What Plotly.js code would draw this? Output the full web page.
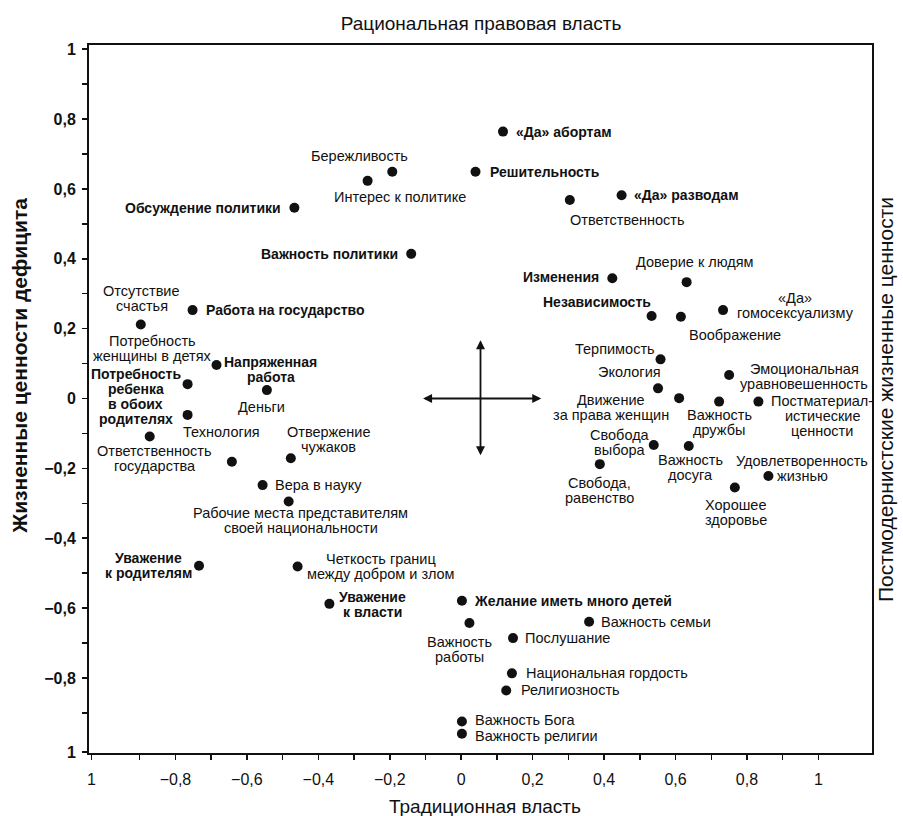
<!DOCTYPE html>
<html>
<head>
<meta charset="utf-8">
<script src="https://cdn.plot.ly/plotly-3.0.1.min.js"></script>
<style>html,body{margin:0;padding:0;background:#fff;}#chart{width:903px;height:816px;}</style>
</head>
<body>
<div id="chart"></div>
<script>
// ---- data ----
const pointNames = [
  'Отсутствие<br>счастья', 'Работа на государство', 'Обсуждение политики', 'Важность политики',
  'Бережливость', 'Интерес к политике', '«Да» абортам', 'Решительность', 'Ответственность',
  '«Да» разводам', 'Изменения', 'Доверие к людям', 'Независимость', 'Воображение',
  '«Да»<br>гомосексуализму', 'Терпимость', 'Экология', 'Движение<br>за права женщин',
  'Эмоциональная<br>уравновешенность', 'Важность<br>дружбы', 'Постматериал-<br>истические<br>ценности',
  'Свобода<br>выбора', 'Важность<br>досуга', 'Свобода,<br>равенство', 'Удовлетворенность<br>жизнью',
  'Хорошее<br>здоровье', 'Потребность<br>женщины в детях', 'Напряженная<br>работа',
  'Потребность<br>ребенка<br>в обоих<br>родителях', 'Ответственность<br>государства', 'Технология',
  'Деньги', 'Отвержение<br>чужаков', 'Вера в науку', 'Рабочие места представителям<br>своей национальности',
  'Уважение<br>к родителям', 'Четкость границ<br>между добром и злом', 'Уважение<br>к власти',
  'Желание иметь много детей', 'Важность семьи', 'Важность<br>работы', 'Послушание',
  'Национальная гордость', 'Религиозность', 'Важность Бога', 'Важность религии'
];
const xValues = [
  -0.897, -0.752, -0.467, -0.140,
  -0.193, -0.262, 0.117, 0.040, 0.304,
  0.449, 0.423, 0.631, 0.533, 0.615,
  0.733, 0.558, 0.551, 0.610,
  0.750, 0.722, 0.832,
  0.539, 0.637, 0.388, 0.860,
  0.766, -0.766, -0.685,
  -0.766, -0.872, -0.642,
  -0.544, -0.477, -0.556, -0.483,
  -0.734, -0.458, -0.369,
  0.002, 0.358, 0.023, 0.145,
  0.142, 0.126, 0.002, 0.002
];
const yValues = [
  0.212, 0.253, 0.546, 0.414,
  0.649, 0.623, 0.764, 0.649, 0.568,
  0.582, 0.344, 0.333, 0.236, 0.234,
  0.253, 0.112, 0.029, 0.001,
  0.067, -0.009, -0.009,
  -0.133, -0.136, -0.188, -0.222,
  -0.255, 0.041, 0.096,
  -0.047, -0.109, -0.181,
  0.024, -0.171, -0.248, -0.295,
  -0.479, -0.481, -0.588,
  -0.579, -0.639, -0.643, -0.686,
  -0.787, -0.836, -0.925, -0.960
];
const xTickVals = [-1.035, -0.9, -0.8, -0.7, -0.6, -0.5, -0.4, -0.3, -0.2, -0.1, 0, 0.1, 0.2, 0.3, 0.4, 0.5, 0.6, 0.7, 0.8, 0.9, 1.0];
const xTickText = ['1', '', '−0,8', '', '−0,6', '', '−0,4', '', '−0,2', '', '0', '', '0,2', '', '0,4', '', '0,6', '', '0,8', '', '1'];
const yTickVals = [-1.012, -0.9, -0.8, -0.7, -0.6, -0.5, -0.4, -0.3, -0.2, -0.1, 0, 0.1, 0.2, 0.3, 0.4, 0.5, 0.6, 0.7, 0.8, 0.9, 1.0];
const yTickText = ['1', '', '−0,8', '', '−0,6', '', '−0,4', '', '−0,2', '', '0', '', '0,2', '', '0,4', '', '0,6', '', '0,8', '', '1'];
const crossH = [-0.111, 0.224];
const crossV = [0.167, -0.167];
const crossCenterX = 0.054;
const titleTop = 'Рациональная правовая власть';
const titleBottom = 'Традиционная власть';
const titleLeft = 'Жизненные ценности дефицита';
const titleRight = 'Постмодернистские жизненные ценности';

// ---- label placement (style only): [xanchor, dx px, dy px (down), bold] ----
const labelPlacement = [
  ['center', 1, -26, 0], ['left', 11, 0, 1], ['right', -11, 0, 1], ['right', -11, 0, 1],
  ['center', -33, -16, 0], ['left', -36, 16, 0], ['left', 11, 0, 1], ['left', 12, 0, 1], ['left', -2, 20, 0],
  ['left', 10, 0, 1], ['right', -11, -1, 1], ['center', 8, -20, 0], ['right', 1, -14, 1], ['left', 6, 18, 0],
  ['center', 72, -5, 0], ['right', -4, -10, 0], ['right', 5, -16, 0], ['center', -68, 9, 0],
  ['center', 75, 1, 0], ['center', 0, 21, 0], ['center', 64, 14, 0],
  ['center', -34, -2, 0], ['center', 2, 22, 0], ['center', 0, 26, 0], ['center', 34, -8, 0],
  ['center', 1, 25, 0], ['center', -35, -36, 0], ['center', 54, 5, 1],
  ['center', -52, -18, 1], ['center', 5, 22, 0], ['center', -10, -30, 0],
  ['center', -5, 17, 0], ['center', 38, -19, 0], ['left', 10, 0, 0], ['center', 12, 19, 0],
  ['center', -51, 0, 1], ['center', 83, 0, 0], ['center', 43, 1, 1],
  ['left', 10, 0, 1], ['left', 10, 0, 0], ['center', -10, 26, 0], ['left', 10, 0, 0],
  ['left', 12, 0, 0], ['left', 13, 0, 0], ['left', 11, -2, 0], ['left', 11, 2, 0]
];

const FONT = 'Liberation Sans, Arial, Helvetica, sans-serif';
const LINE = 15;

const annotations = [];
pointNames.forEach((name, i) => {
  const p = labelPlacement[i];
  const lines = name.split('<br>');
  const n = lines.length;
  lines.forEach((ln, k) => {
    annotations.push({
      x: xValues[i], y: yValues[i], xref: 'x', yref: 'y',
      text: ln, showarrow: false,
      xanchor: p[0], yanchor: 'middle', align: 'center',
      xshift: p[1], yshift: -p[2] + ((n - 1) / 2 - k) * LINE,
      font: {family: FONT, size: p[3] ? 14 : 14.5, color: '#111', weight: p[3] ? 'bold' : 'normal'}
    });
  });
});

// cross arrows
annotations.push({
  x: crossH[1], y: 0, ax: crossH[0], ay: 0, xref: 'x', yref: 'y', axref: 'x', ayref: 'y',
  showarrow: true, arrowhead: 2, arrowside: 'end+start', arrowsize: 1, arrowwidth: 1.8, arrowcolor: '#111', text: ''
});
annotations.push({
  x: crossCenterX, y: crossV[0], ax: crossCenterX, ay: crossV[1], xref: 'x', yref: 'y', axref: 'x', ayref: 'y',
  showarrow: true, arrowhead: 2, arrowside: 'end+start', arrowsize: 1, arrowwidth: 1.8, arrowcolor: '#111', text: ''
});

// axis titles
annotations.push({
  xref: 'paper', yref: 'paper', x: 0.506, y: -0.075, xanchor: 'center', yanchor: 'middle',
  text: titleBottom, showarrow: false, font: {family: FONT, size: 19, color: '#111'}
});
annotations.push({
  xref: 'paper', yref: 'paper', x: -0.088, y: 0.547, xanchor: 'center', yanchor: 'middle', textangle: -90,
  text: titleLeft, showarrow: false, font: {family: FONT, size: 21, color: '#111', weight: 'bold'}
});
annotations.push({
  xref: 'paper', yref: 'paper', x: 1.0166, y: 0.5, xanchor: 'center', yanchor: 'middle', textangle: -90,
  text: titleRight, showarrow: false, font: {family: FONT, size: 21, color: '#111'}
});

const trace = {
  type: 'scatter', mode: 'markers',
  x: xValues, y: yValues,
  text: pointNames, hoverinfo: 'text',
  marker: {color: '#111', size: 10, line: {width: 0}}
};

const axisCommon = {
  showline: true, mirror: true, linewidth: 2, linecolor: '#111',
  ticks: 'outside', ticklen: 5, tickwidth: 1.5, tickcolor: '#111',
  showgrid: false, zeroline: false, tickmode: 'array', fixedrange: true
};

const layout = {
  width: 903, height: 816,
  margin: {l: 89, r: 31, t: 45, b: 63, pad: 0},
  paper_bgcolor: '#fff', plot_bgcolor: '#fff',
  showlegend: false,
  font: {family: FONT, color: '#111'},
  title: {
    text: titleTop, x: 481 / 903, xanchor: 'center', xref: 'container',
    y: 1 - 23 / 816, yanchor: 'middle', yref: 'container',
    font: {family: FONT, size: 19, color: '#111'}
  },
  xaxis: Object.assign({}, axisCommon, {
    range: [-1.042, 1.15], tickvals: xTickVals, ticktext: xTickText,
    tickfont: {family: FONT, size: 16, color: '#111'}, ticklabelstandoff: 6
  }),
  yaxis: Object.assign({}, axisCommon, {
    range: [-1.015, 1.012], tickvals: yTickVals, ticktext: yTickText,
    tickfont: {family: FONT, size: 16, color: '#111', weight: 'bold'}, ticklabelstandoff: 3
  }),
  annotations: annotations
};

Plotly.newPlot('chart', [trace], layout, {displayModeBar: false, staticPlot: true});
</script>
</body>
</html>
